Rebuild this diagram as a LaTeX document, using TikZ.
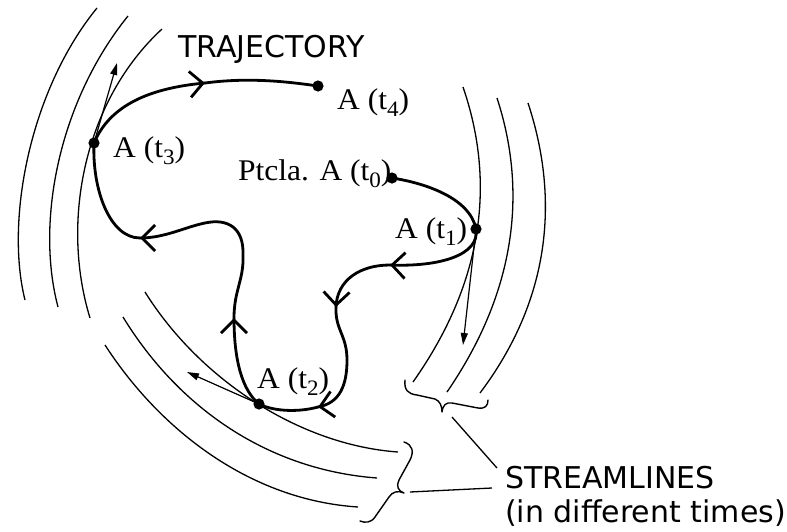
\documentclass[tikz,border=0pt]{standalone}
\usepackage{fontspec}
\setmainfont{Liberation Serif}
\newfontfamily\labelfont[FakeStretch=1.05]{Liberation Serif}
\newfontfamily\capsfont{DejaVu Sans}
\usetikzlibrary{arrows.meta,decorations.markings}
% lowered index digit used in the position labels
\newcommand\idx[1]{\raisebox{-7pt}{\fontsize{22}{22}\selectfont #1}}

\begin{document}
\begin{tikzpicture}[x=1pt,y=-1pt,
  stream/.style={line width=1.3pt},
  traj/.style={line width=2.8pt, line cap=round, line join=round},
  chev/.style={postaction={decorate}, decoration={markings,
      mark=at position 0.999 with {\arrow{Straight Barb[length=13pt,width=26pt]}}}},
  vel/.style={line width=1.2pt, -{Triangle[length=12pt,width=7pt]}},
  bracepath/.style={line width=1.4pt, line cap=round, line join=round},
  leader/.style={line width=1.3pt},
  dot/.style={fill=black},
  lab/.style={font=\labelfont\fontsize{30}{32}\selectfont, inner sep=0pt, anchor=base west},
  captext/.style={font=\capsfont\fontsize{30}{32}\selectfont, inner sep=0pt, anchor=base west}
]
\useasboundingbox (0,0) rectangle (787,531);

% positions of the particle
\coordinate (t0) at (392,178);
\coordinate (t1) at (476,229);
\coordinate (t2) at (259,404);
\coordinate (t3) at (94,143);
\coordinate (t4) at (318,86);

% streamlines at t3 (left)
\draw[stream] (97,8) .. controls (30,90) and (5,220) .. (25,300);
\draw[stream] (128,16) .. controls (60,100) and (35,220) .. (58,307);
\draw[stream] (162,29) .. controls (85,100) and (60,220) .. (90,318);

% streamlines at t1 (right)
\draw[stream] (463,87) .. controls (495,180) and (485,280) .. (413,382);
\draw[stream] (497,98) .. controls (527,190) and (517,290) .. (447,392);
\draw[stream] (528,103) .. controls (560,200) and (550,300) .. (480,393);

% streamlines at t2 (bottom)
\draw[stream] (145,292) .. controls (200,380) and (300,445) .. (398,452);
\draw[stream] (123,317) .. controls (180,410) and (270,470) .. (377,478);
\draw[stream] (105,345) .. controls (160,430) and (250,500) .. (358,507);

% velocity vectors tangent to the streamlines
\coordinate (v3) at (117,63);
\coordinate (v1) at (463,345);
\coordinate (v2) at (187,372);
\draw[vel] (t3) -- (v3);
\draw[vel] (t1) -- (v1);
\draw[vel] (t2) -- (v2);

% trajectory of particle A
\coordinate (c1) at (390,265);
\coordinate (c2) at (336,307);
\coordinate (c3) at (318,407);
\coordinate (c4) at (234,318);
\coordinate (c5) at (140,238);
\coordinate (c6) at (205,83);
\draw[traj] (t0) .. controls (425,183) and (470,198) .. (t1);
\draw[traj, chev] (t1) .. controls (480,255) and (440,267) .. (c1);
\draw[traj, chev] (c1) .. controls (360,265) and (337,280) .. (c2);
\draw[traj, chev] (c2) .. controls (335,330) and (347,335) .. (347,360)
                   .. controls (347,385) and (340,403) .. (c3);
\draw[traj] (c3) .. controls (300,412) and (275,412) .. (t2);
\draw[traj, chev] (t2) .. controls (242,390) and (234,360) .. (c4);
\draw[traj, chev] (c4) .. controls (234,290) and (244,280) .. (243,255)
                   .. controls (244,228) and (228,218) .. (205,223)
                   .. controls (185,227) and (165,238) .. (c5);
\draw[traj] (c5) .. controls (110,238) and (92,190) .. (t3);
\draw[traj, chev] (t3) .. controls (110,105) and (150,88) .. (c6);
\draw[traj] (c6) .. controls (250,77) and (290,82) .. (t4);

\foreach \p in {t0,t1,t2,t3,t4} \fill[dot] (\p) circle (5.6pt);

% labels of the positions
\node[lab] (l4) at (337,109) {A (t\idx{4})};
\node[lab] (l3) at (113,157) {A (t\idx{3})};
\node[lab] (l0) at (238,180) {Ptcla. A (t\idx{0})};
\node[lab] (l1) at (395,238) {A (t\idx{1})};
\node[lab] (l2) at (257,388) {A (t\idx{2})};

% captions
\node[captext] (tr) at (178,57) {TRAJECTORY};
\node[captext] (s1) at (505,488) {STREAMLINES};
\node[captext] (s2) at (505,522) {(in different times)};

% braces grouping the streamlines
\draw[bracepath] (405,380) .. controls (404,390) and (408,394) .. (417,395) -- (435,399)
                 .. controls (440,401) and (442,406) .. (442,412)
                 .. controls (443,405) and (446,402) .. (452,403) -- (478,408)
                 .. controls (485,409) and (488,406) .. (488,400);
\draw[bracepath] (404,442) .. controls (413,445) and (414,452) .. (410,460) -- (399,480)
                 .. controls (396,486) and (398,491) .. (404,493)
                 .. controls (398,490) and (392,492) .. (389,497) -- (375,517)
                 .. controls (371,523) and (365,523) .. (360,521);

% leaders to the caption
\coordinate (b1) at (452,417);
\coordinate (e1) at (497,468);
\coordinate (b2) at (410,492);
\coordinate (e2) at (492,488);
\draw[leader] (b1) -- (e1);
\draw[leader] (b2) -- (e2);
\end{tikzpicture}
\end{document}
